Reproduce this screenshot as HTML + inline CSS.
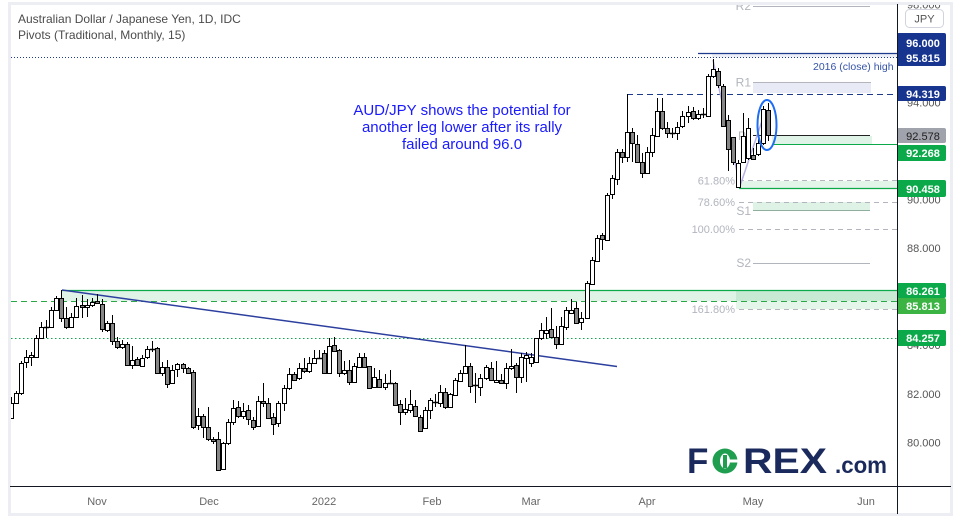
<!DOCTYPE html>
<html><head><meta charset="utf-8"><style>
html,body{margin:0;padding:0;background:#fff;overflow:hidden}
svg{display:block;font-family:"Liberation Sans",Arial,sans-serif}
.w{fill:#fff;stroke:#000;stroke-width:1}
.g{fill:#868686;stroke:#000;stroke-width:1}
.tk{font-size:11px;fill:#555}
.lb{font-size:11px;font-weight:bold;fill:#fff;text-anchor:middle}
</style></head><body>
<svg width="961" height="524" viewBox="0 0 961 524" xmlns="http://www.w3.org/2000/svg">
<defs>
<clipPath id="plot"><rect x="11" y="5" width="886" height="481"/></clipPath>
<clipPath id="axis"><rect x="898" y="5" width="52" height="481"/></clipPath>
</defs>
<rect width="961" height="524" fill="#fff"/>
<rect x="9.5" y="3.5" width="942" height="511" fill="none" stroke="#eceef4" stroke-width="3"/>

<g clip-path="url(#plot)">
<!-- bands -->
<rect x="712" y="53" width="185" height="4.5" fill="#eceef8"/>
<rect x="753" y="82" width="118" height="11" fill="#e8eaf6"/>
<rect x="772" y="136" width="100" height="8" fill="#e0f3e7"/>
<rect x="739" y="181" width="158" height="7" fill="#e3f4e8"/>
<rect x="753" y="202" width="117" height="8" fill="#dff2e6"/>
<rect x="62" y="291" width="835" height="10" fill="#e0f3e7"/>
<rect x="736" y="291" width="161" height="18" fill="rgba(34,170,85,0.12)"/>

<!-- level lines -->
<path d="M698 53.5H897" stroke="#1e3a8c" stroke-width="1.2"/>
<path d="M11 57.5H897" stroke="#1e3a8c" stroke-dasharray="1 2"/>
<path d="M627 94.5H897" stroke="#1e3a8c" stroke-dasharray="6 4"/>
<path d="M753 6.5H870" stroke="#b2b5be"/>
<path d="M753 82.5H871" stroke="#b2b5be"/>
<path d="M753 135.5H870" stroke="#222"/>
<path d="M772 144.5H897" stroke="#0ca94a"/>
<path d="M739 180.5H897M739 202.5H897M739 229.5H897M739 309.5H897" stroke="#b2b5be" stroke-dasharray="5 4"/>
<path d="M739 188.5H897" stroke="#0ca94a" stroke-width="1.2"/>
<path d="M753 210.5H870" stroke="#8fae9e"/>
<path d="M753 263.5H870" stroke="#b2b5be"/>
<path d="M62 290.5H897" stroke="#0ca94a" stroke-width="1.2"/>
<path d="M11 301.5H897" stroke="#2aa847" stroke-dasharray="6 4"/>
<path d="M11 338.5H897" stroke="#0ca94a" stroke-dasharray="1.5 2.5"/>
<path d="M62 290L617 366.5" stroke="#2c3f9e" stroke-width="1.5" fill="none"/>

<!-- fib + pivot labels -->
<g font-size="11" fill="#b2b5be" text-anchor="end">
<text x="735" y="184.5">61.80%</text>
<text x="735" y="206">78.60%</text>
<text x="735" y="233">100.00%</text>
<text x="735" y="313">161.80%</text>
</g>
<g font-size="12" fill="#b2b5be" text-anchor="end">
<text x="751" y="10">R2</text>
<text x="751" y="86.5">R1</text>
<text x="746" y="140">P</text>
<text x="751" y="215">S1</text>
<text x="751" y="267">S2</text>
</g>

<path d="M713 60L740 186L765 112" stroke="#b9b0e6" stroke-width="1.5" fill="none"/>

<!-- wicks -->
<path stroke="#000" stroke-width="1" fill="none" d="M11.5 397V418M16.5 391V404M21.5 361V395M26.5 350V368M31.5 352V366M36.5 335V357M41.5 322V338M46.5 320V338M51.5 307V327M56.5 296V310M61.5 290V322M66.5 307V329M71.5 313V328M76.5 298V317M82.5 295V318M87.5 299V317M92.5 298V307M97.5 294V304M102.5 299V332M107.5 321V332M112.5 315V345M117.5 337V349M122.5 340V349M127.5 342V366M132.5 346V369M137.5 357V366M142.5 355V367M147.5 346V359M152.5 341V352M157.5 347V373M162.5 362V376M167.5 360V388M172.5 365V384M177.5 363V377M183.5 363V373M188.5 367V374M193.5 370V429M198.5 408V430M203.5 414V438M208.5 407V441M213.5 437V444M218.5 432V471M223.5 442V470M228.5 419V445M233.5 400V425M238.5 401V418M243.5 403V419M248.5 405V425M253.5 417V430M258.5 396V427M263.5 383V407M268.5 398V419M273.5 413V435M278.5 401V427M284.5 385V411M289.5 368V390M294.5 372V381M299.5 363V380M304.5 358V373M309.5 357V373M314.5 350V363M319.5 350V359M324.5 350V373M329.5 338V373M334.5 337V351M339.5 349V377M344.5 361V375M349.5 360V385M354.5 363V383M359.5 353V367M364.5 353V368M369.5 366V389M374.5 368V388M379.5 370V388M385.5 374V390M390.5 370V383M395.5 382V406M400.5 400V425M405.5 398V415M410.5 390V413M415.5 400V417M420.5 415V432M425.5 407V429M430.5 398V419M435.5 394V407M440.5 385V407M445.5 388V409M450.5 393V407M455.5 378V395M460.5 370V382M465.5 345V374M470.5 363V393M475.5 373V403M480.5 374V396M486.5 365V380M491.5 362V381M496.5 361V383M501.5 374V384M506.5 363V389M511.5 349V370M516.5 363V393M521.5 353V383M526.5 352V382M531.5 353V367M536.5 338V363M541.5 323V340M546.5 317V339M551.5 308V338M556.5 326V349M561.5 317V344M566.5 307V330M571.5 299V314M576.5 302V323M581.5 312V330M587.5 281V319M592.5 257V285M597.5 235V262M602.5 233V250M607.5 193V240M612.5 175V199M617.5 149V185M622.5 149V163M627.5 94V162M632.5 128V162M637.5 135V163M642.5 153V178M647.5 147V174M652.5 128V157M657.5 98V137M662.5 98V130M667.5 122V138M672.5 128V138M677.5 122V140M682.5 111V128M688.5 106V123M693.5 107V120M698.5 110V120M703.5 108V118M708.5 74V117M713.5 59V78M718.5 68V88M723.5 84V127M728.5 115V171M733.5 137V165M738.5 160V188M743.5 113V163M748.5 118V160M753.5 148V160M758.5 139V156M763.5 106V145M768.5 103V141"/>
<!-- dojis -->
<path stroke="#000" stroke-width="1.5" d="M44 327.5h5M150 349.5h5M317 358.5h5M388 383.5h5M433 402.5h5M473 385.5h5M670 133.5h5M701 114.5h5"/>
<!-- white bodies -->
<g class="w">
<rect x="9.5" y="403.5" width="4" height="15"/>
<rect x="14.5" y="393.5" width="4" height="10"/>
<rect x="19.5" y="363.5" width="4" height="30"/>
<rect x="24.5" y="357.5" width="4" height="5"/>
<rect x="29.5" y="355.5" width="4" height="2"/>
<rect x="34.5" y="338.5" width="4" height="19"/>
<rect x="39.5" y="327.5" width="4" height="11"/>
<rect x="49.5" y="310.5" width="4" height="17"/>
<rect x="54.5" y="298.5" width="4" height="12"/>
<rect x="69.5" y="317.5" width="4" height="10"/>
<rect x="74.5" y="306.5" width="4" height="11"/>
<rect x="85.5" y="305.5" width="4" height="2"/>
<rect x="90.5" y="302.5" width="4" height="3"/>
<rect x="105.5" y="323.5" width="4" height="7"/>
<rect x="120.5" y="344.5" width="4" height="3"/>
<rect x="130.5" y="360.5" width="4" height="5"/>
<rect x="140.5" y="358.5" width="4" height="8"/>
<rect x="145.5" y="349.5" width="4" height="8"/>
<rect x="160.5" y="367.5" width="4" height="6"/>
<rect x="170.5" y="370.5" width="4" height="13"/>
<rect x="175.5" y="364.5" width="4" height="5"/>
<rect x="196.5" y="416.5" width="4" height="9"/>
<rect x="221.5" y="443.5" width="4" height="26"/>
<rect x="226.5" y="422.5" width="4" height="21"/>
<rect x="231.5" y="408.5" width="4" height="14"/>
<rect x="241.5" y="411.5" width="4" height="5"/>
<rect x="256.5" y="401.5" width="4" height="25"/>
<rect x="276.5" y="403.5" width="4" height="20"/>
<rect x="282.5" y="388.5" width="4" height="15"/>
<rect x="287.5" y="374.5" width="4" height="14"/>
<rect x="297.5" y="368.5" width="4" height="10"/>
<rect x="307.5" y="363.5" width="4" height="8"/>
<rect x="312.5" y="358.5" width="4" height="5"/>
<rect x="327.5" y="346.5" width="4" height="27"/>
<rect x="342.5" y="370.5" width="4" height="3"/>
<rect x="352.5" y="366.5" width="4" height="16"/>
<rect x="357.5" y="357.5" width="4" height="10"/>
<rect x="372.5" y="377.5" width="4" height="10"/>
<rect x="383.5" y="383.5" width="4" height="4"/>
<rect x="403.5" y="409.5" width="4" height="3"/>
<rect x="408.5" y="404.5" width="4" height="6"/>
<rect x="423.5" y="410.5" width="4" height="18"/>
<rect x="428.5" y="400.5" width="4" height="10"/>
<rect x="438.5" y="392.5" width="4" height="11"/>
<rect x="448.5" y="394.5" width="4" height="13"/>
<rect x="453.5" y="380.5" width="4" height="15"/>
<rect x="458.5" y="373.5" width="4" height="8"/>
<rect x="463.5" y="366.5" width="4" height="7"/>
<rect x="478.5" y="378.5" width="4" height="9"/>
<rect x="484.5" y="367.5" width="4" height="11"/>
<rect x="494.5" y="380.5" width="4" height="2"/>
<rect x="504.5" y="368.5" width="4" height="15"/>
<rect x="509.5" y="366.5" width="4" height="2"/>
<rect x="519.5" y="357.5" width="4" height="20"/>
<rect x="524.5" y="355.5" width="4" height="3"/>
<rect x="529.5" y="357.5" width="4" height="6"/>
<rect x="534.5" y="338.5" width="4" height="24"/>
<rect x="539.5" y="330.5" width="4" height="8"/>
<rect x="544.5" y="330.5" width="4" height="3"/>
<rect x="559.5" y="326.5" width="4" height="18"/>
<rect x="564.5" y="310.5" width="4" height="17"/>
<rect x="569.5" y="310.5" width="4" height="3"/>
<rect x="579.5" y="318.5" width="4" height="4"/>
<rect x="585.5" y="283.5" width="4" height="35"/>
<rect x="590.5" y="260.5" width="4" height="24"/>
<rect x="595.5" y="238.5" width="4" height="23"/>
<rect x="605.5" y="195.5" width="4" height="45"/>
<rect x="610.5" y="178.5" width="4" height="16"/>
<rect x="615.5" y="152.5" width="4" height="27"/>
<rect x="625.5" y="132.5" width="4" height="25"/>
<rect x="645.5" y="152.5" width="4" height="21"/>
<rect x="650.5" y="135.5" width="4" height="17"/>
<rect x="655.5" y="111.5" width="4" height="25"/>
<rect x="675.5" y="127.5" width="4" height="6"/>
<rect x="680.5" y="116.5" width="4" height="10"/>
<rect x="686.5" y="112.5" width="4" height="4"/>
<rect x="696.5" y="114.5" width="4" height="4"/>
<rect x="706.5" y="76.5" width="4" height="40"/>
<rect x="711.5" y="69.5" width="4" height="7"/>
<rect x="736.5" y="163.5" width="4" height="24"/>
<rect x="741.5" y="136.5" width="4" height="26"/>
<rect x="746.5" y="128.5" width="4" height="30"/>
<rect x="756.5" y="143.5" width="4" height="11"/>
<rect x="761.5" y="109.5" width="4" height="34"/>
</g>
<!-- gray bodies -->
<g class="g">
<rect x="59.5" y="298.5" width="4" height="20"/>
<rect x="64.5" y="318.5" width="4" height="9"/>
<rect x="80.5" y="305.5" width="4" height="2"/>
<rect x="95.5" y="301.5" width="4" height="2"/>
<rect x="100.5" y="304.5" width="4" height="25"/>
<rect x="110.5" y="323.5" width="4" height="18"/>
<rect x="115.5" y="341.5" width="4" height="6"/>
<rect x="125.5" y="344.5" width="4" height="21"/>
<rect x="135.5" y="359.5" width="4" height="6"/>
<rect x="155.5" y="348.5" width="4" height="25"/>
<rect x="165.5" y="367.5" width="4" height="17"/>
<rect x="181.5" y="364.5" width="4" height="4"/>
<rect x="186.5" y="368.5" width="4" height="5"/>
<rect x="191.5" y="372.5" width="4" height="55"/>
<rect x="201.5" y="416.5" width="4" height="11"/>
<rect x="206.5" y="427.5" width="4" height="12"/>
<rect x="211.5" y="439.5" width="4" height="2"/>
<rect x="216.5" y="439.5" width="4" height="31"/>
<rect x="236.5" y="407.5" width="4" height="9"/>
<rect x="246.5" y="410.5" width="4" height="9"/>
<rect x="251.5" y="420.5" width="4" height="7"/>
<rect x="261.5" y="401.5" width="4" height="2"/>
<rect x="266.5" y="403.5" width="4" height="15"/>
<rect x="271.5" y="417.5" width="4" height="7"/>
<rect x="292.5" y="374.5" width="4" height="6"/>
<rect x="302.5" y="368.5" width="4" height="3"/>
<rect x="322.5" y="353.5" width="4" height="20"/>
<rect x="332.5" y="345.5" width="4" height="6"/>
<rect x="337.5" y="350.5" width="4" height="23"/>
<rect x="347.5" y="370.5" width="4" height="12"/>
<rect x="362.5" y="357.5" width="4" height="10"/>
<rect x="367.5" y="366.5" width="4" height="22"/>
<rect x="377.5" y="379.5" width="4" height="8"/>
<rect x="393.5" y="383.5" width="4" height="22"/>
<rect x="398.5" y="404.5" width="4" height="8"/>
<rect x="413.5" y="406.5" width="4" height="10"/>
<rect x="418.5" y="417.5" width="4" height="14"/>
<rect x="443.5" y="392.5" width="4" height="15"/>
<rect x="468.5" y="366.5" width="4" height="20"/>
<rect x="489.5" y="368.5" width="4" height="12"/>
<rect x="499.5" y="380.5" width="4" height="3"/>
<rect x="514.5" y="365.5" width="4" height="12"/>
<rect x="549.5" y="329.5" width="4" height="8"/>
<rect x="554.5" y="337.5" width="4" height="7"/>
<rect x="574.5" y="308.5" width="4" height="15"/>
<rect x="600.5" y="235.5" width="4" height="4"/>
<rect x="620.5" y="152.5" width="4" height="5"/>
<rect x="630.5" y="132.5" width="4" height="11"/>
<rect x="635.5" y="144.5" width="4" height="18"/>
<rect x="640.5" y="162.5" width="4" height="11"/>
<rect x="660.5" y="111.5" width="4" height="17"/>
<rect x="665.5" y="128.5" width="4" height="5"/>
<rect x="691.5" y="111.5" width="4" height="7"/>
<rect x="716.5" y="71.5" width="4" height="14"/>
<rect x="721.5" y="86.5" width="4" height="40"/>
<rect x="726.5" y="120.5" width="4" height="29"/>
<rect x="731.5" y="137.5" width="4" height="25"/>
<rect x="751.5" y="155.5" width="4" height="4"/>
<rect x="766.5" y="110.5" width="4" height="25"/>
</g>

<ellipse cx="767" cy="125" rx="9.5" ry="25" fill="none" stroke="#1d6ef5" stroke-width="2"/>
<text x="813" y="70" font-size="10.5" fill="#3553a8">2016 (close) high</text>

<g font-size="15" fill="#1a1aff" text-anchor="middle">
<text x="462" y="115">AUD/JPY shows the potential for</text>
<text x="462" y="132">another leg lower after its rally</text>
<text x="462" y="149">failed around 96.0</text>
</g>

<!-- logo -->
<g font-weight="bold" fill="#1b2a5c">
<text x="687" y="473" font-size="35">F</text>
<text x="743" y="473" font-size="35" textLength="84" lengthAdjust="spacingAndGlyphs">REX</text>
<text x="835" y="473" font-size="23" textLength="52" lengthAdjust="spacingAndGlyphs">.com</text>
</g>
<circle cx="725" cy="461" r="12.5" fill="#1f9e4f"/>
<ellipse cx="725" cy="461" rx="5" ry="7.5" fill="#fff"/>
<rect x="723" y="455" width="4" height="13" fill="#1f9e4f"/>
<rect x="729" y="459.5" width="9" height="3" fill="#fff"/>
</g>

<!-- axes -->
<path d="M897.5 4V514" stroke="#131722" stroke-width="1"/>
<path d="M10 486.5H951" stroke="#131722" stroke-width="1"/>

<g clip-path="url(#axis)">
<g class="tk">
<text x="907" y="8.7">98.000</text>
<text x="907" y="57.8">96.000</text>
<text x="907" y="106.4">94.000</text>
<text x="907" y="155">92.000</text>
<text x="907" y="203.4">90.000</text>
<text x="907" y="252">88.000</text>
<text x="907" y="300.6">86.000</text>
<text x="907" y="349">84.000</text>
<text x="907" y="397.8">82.000</text>
<text x="907" y="446.4">80.000</text>
</g>
<rect x="897" y="33" width="49" height="33" rx="2" fill="#17358f"/>
<rect x="897" y="86" width="49" height="15" rx="2" fill="#17358f"/>
<rect x="897" y="128" width="49" height="15" rx="2" fill="#a0a3ab"/>
<rect x="897" y="145" width="49" height="16" rx="2" fill="#0ca94a"/>
<rect x="897" y="180" width="49" height="17" rx="2" fill="#0ca94a"/>
<rect x="897" y="283" width="49" height="15" rx="2" fill="#0ca94a"/>
<rect x="897" y="298" width="49" height="16" rx="2" fill="#3bb443"/>
<rect x="897" y="330" width="49" height="16" rx="2" fill="#0ca94a"/>
<g class="lb">
<text x="923" y="47">96.000</text>
<text x="923" y="62">95.815</text>
<text x="923" y="98">94.319</text>
<text x="923" y="140" style="fill:#1e1e1e;font-weight:normal">92.578</text>
<text x="923" y="157">92.268</text>
<text x="923" y="193">90.458</text>
<text x="923" y="295">86.261</text>
<text x="923" y="310">85.813</text>
<text x="923" y="342">84.257</text>
</g>
<rect x="905.5" y="9.5" width="38" height="18" rx="4" fill="#fff" stroke="#d1d4dc"/>
<text x="924.5" y="22.5" font-size="11" fill="#555" text-anchor="middle">JPY</text>
</g>

<g font-size="11" fill="#666" text-anchor="middle">
<text x="97" y="505">Nov</text>
<text x="209" y="505">Dec</text>
<text x="324" y="505">2022</text>
<text x="432" y="505">Feb</text>
<text x="531" y="505">Mar</text>
<text x="647" y="505">Apr</text>
<text x="753" y="505">May</text>
<text x="866" y="505">Jun</text>
</g>

<g font-size="12" fill="#4b4b4b">
<text x="18" y="23">Australian Dollar / Japanese Yen, 1D, IDC</text>
<text x="18" y="39">Pivots (Traditional, Monthly, 15)</text>
</g>
</svg>
</body></html>
